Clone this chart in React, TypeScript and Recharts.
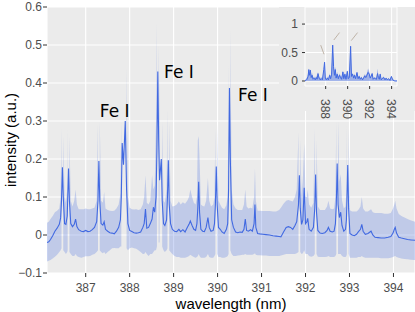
import React from 'react';
import {
  ComposedChart, Area, Line, XAxis, YAxis, CartesianGrid, ReferenceDot, ReferenceLine,
} from 'recharts';

// [wavelength nm, mean intensity, band low, band high] (band null = out of range gap)
const mainSpectrum: [number, number, number | null, number | null][] = [
  [386.12, -0.02, -0.07, 0.032], [386.16, -0.018, -0.068, 0.035], [386.2, -0.012, -0.066, 0.042],
  [386.25, -0.002, -0.062, 0.05], [386.3, 0.01, -0.057, 0.06], [386.35, 0.018, -0.052, 0.064],
  [386.4, 0.028, -0.045, 0.07], [386.43, 0.045, -0.04, 0.1], [386.45, 0.09, -0.035, 0.28],
  [386.47, 0.178, null, null], [386.49, 0.1, -0.04, 0.26], [386.52, 0.03, -0.045, 0.1],
  [386.55, 0.028, -0.05, 0.085], [386.58, 0.05, -0.045, 0.12], [386.59, 0.09, -0.04, 0.28],
  [386.61, 0.175, null, null], [386.63, 0.09, -0.045, 0.26], [386.66, 0.03, -0.05, 0.09],
  [386.7, 0.022, -0.055, 0.075], [386.74, 0.028, -0.055, 0.09], [386.77, 0.042, -0.05, 0.12],
  [386.8, 0.022, -0.055, 0.08], [386.84, 0.014, -0.058, 0.068], [386.9, 0.01, -0.06, 0.068],
  [386.95, 0.009, -0.058, 0.068], [387.0, 0.012, -0.056, 0.07], [387.05, 0.009, -0.056, 0.068],
  [387.1, 0.01, -0.055, 0.068], [387.15, 0.014, -0.052, 0.07], [387.2, 0.02, -0.05, 0.072],
  [387.25, 0.035, -0.045, 0.09], [387.28, 0.09, -0.04, 0.29], [387.3, 0.195, null, null],
  [387.32, 0.09, -0.04, 0.3], [387.35, 0.03, -0.045, 0.09], [387.39, 0.026, -0.048, 0.085],
  [387.42, 0.035, -0.045, 0.113], [387.45, 0.015, -0.05, 0.07], [387.5, 0.01, -0.045, 0.066],
  [387.55, 0.006, -0.04, 0.064], [387.6, 0.005, -0.035, 0.063], [387.65, 0.003, -0.034, 0.064],
  [387.7, 0.01, -0.035, 0.07], [387.75, 0.02, -0.035, 0.08], [387.79, 0.04, -0.03, 0.11],
  [387.81, 0.1, -0.03, 0.3], [387.83, 0.242, null, null], [387.86, 0.185, -0.03, 0.4],
  [387.9, 0.3, null, null], [387.93, 0.12, -0.035, 0.44], [387.96, 0.03, -0.04, 0.1],
  [388.0, 0.012, -0.035, 0.072], [388.05, 0.009, -0.033, 0.068], [388.1, 0.006, -0.035, 0.067],
  [388.15, 0.005, -0.036, 0.068], [388.2, 0.006, -0.04, 0.066], [388.25, 0.008, -0.045, 0.068],
  [388.3, 0.02, -0.05, 0.08], [388.33, 0.03, -0.05, 0.1], [388.36, 0.068, -0.045, 0.157],
  [388.39, 0.018, -0.05, 0.085], [388.43, 0.02, -0.055, 0.08], [388.47, 0.03, -0.05, 0.09],
  [388.51, 0.042, -0.05, 0.157], [388.54, 0.073, -0.045, 0.12], [388.57, 0.06, -0.04, 0.13],
  [388.6, 0.1, -0.04, 0.3], [388.62, 0.22, -0.03, 0.56], [388.64, 0.43, null, null],
  [388.66, 0.25, -0.02, 0.5], [388.68, 0.144, -0.02, 0.3], [388.72, 0.2, null, null],
  [388.74, 0.09, -0.03, 0.3], [388.77, 0.03, -0.04, 0.09], [388.8, 0.025, -0.045, 0.085],
  [388.84, 0.04, -0.04, 0.12], [388.86, 0.1, -0.035, 0.33], [388.88, 0.197, null, null],
  [388.9, 0.08, -0.04, 0.3], [388.93, 0.03, -0.045, 0.09], [388.97, 0.015, -0.05, 0.075],
  [389.02, 0.01, -0.055, 0.076], [389.07, 0.009, -0.058, 0.08], [389.12, 0.015, -0.058, 0.088],
  [389.16, 0.009, -0.06, 0.08], [389.21, 0.014, -0.06, 0.086], [389.26, 0.008, -0.06, 0.082],
  [389.31, 0.02, -0.058, 0.09], [389.35, 0.028, -0.055, 0.1], [389.38, 0.037, -0.052, 0.12],
  [389.42, 0.025, -0.055, 0.1], [389.46, 0.015, -0.058, 0.085], [389.5, 0.012, -0.06, 0.08],
  [389.53, 0.03, -0.058, 0.1], [389.55, 0.07, -0.055, 0.25], [389.57, 0.14, -0.05, 0.26],
  [389.59, 0.06, -0.055, 0.2], [389.62, 0.015, -0.06, 0.08], [389.66, 0.01, -0.06, 0.076],
  [389.7, 0.009, -0.06, 0.075], [389.74, 0.02, -0.058, 0.09], [389.78, 0.046, -0.05, 0.15],
  [389.81, 0.02, -0.058, 0.09], [389.85, 0.01, -0.06, 0.075], [389.9, 0.012, -0.06, 0.08],
  [389.93, 0.03, -0.055, 0.1], [389.95, 0.08, -0.05, 0.28], [389.97, 0.18, null, null],
  [389.99, 0.08, -0.05, 0.29], [390.02, 0.02, -0.058, 0.09], [390.06, 0.015, -0.058, 0.08],
  [390.1, 0.008, -0.06, 0.072], [390.15, 0.004, -0.06, 0.068], [390.2, 0.015, -0.058, 0.078],
  [390.23, 0.03, -0.055, 0.1], [390.25, 0.12, -0.05, 0.45], [390.27, 0.387, null, null],
  [390.29, 0.2, -0.04, 0.54], [390.32, 0.04, -0.05, 0.12], [390.36, 0.02, -0.055, 0.08],
  [390.41, 0.008, -0.055, 0.07], [390.46, 0.006, -0.054, 0.066], [390.51, 0.008, -0.053, 0.066],
  [390.56, 0.007, -0.052, 0.066], [390.6, 0.015, -0.052, 0.08], [390.63, 0.042, -0.05, 0.12],
  [390.66, 0.012, -0.052, 0.075], [390.7, 0.01, -0.052, 0.07], [390.75, 0.014, -0.052, 0.072],
  [390.79, 0.01, -0.052, 0.07], [390.83, 0.03, -0.05, 0.1], [390.85, 0.08, -0.048, 0.175],
  [390.87, 0.02, -0.052, 0.09], [390.91, 0.004, -0.053, 0.064], [390.96, 0.003, -0.053, 0.064],
  [391.03, 0.002, -0.054, 0.063], [391.1, 0.001, -0.054, 0.063], [391.18, 0.0, -0.055, 0.063],
  [391.26, -0.002, -0.055, 0.062], [391.33, -0.003, -0.055, 0.062], [391.4, -0.004, -0.055, 0.066],
  [391.44, -0.005, -0.054, 0.072], [391.5, 0.008, -0.052, 0.082], [391.56, 0.02, -0.05, 0.09],
  [391.61, 0.022, -0.05, 0.092], [391.66, 0.02, -0.05, 0.09], [391.71, 0.015, -0.05, 0.088],
  [391.76, 0.025, -0.05, 0.1], [391.8, 0.035, -0.048, 0.12], [391.84, 0.08, -0.045, 0.27],
  [391.86, 0.157, null, null], [391.88, 0.07, -0.045, 0.25], [391.91, 0.028, -0.05, 0.1],
  [391.94, 0.04, -0.048, 0.15], [391.97, 0.124, -0.04, 0.24], [392.0, 0.03, -0.05, 0.1],
  [392.03, 0.035, -0.05, 0.1], [392.05, 0.044, -0.05, 0.12], [392.08, 0.015, -0.055, 0.08],
  [392.13, 0.01, -0.057, 0.072], [392.18, 0.02, -0.055, 0.085], [392.21, 0.07, -0.05, 0.28],
  [392.23, 0.159, null, null], [392.25, 0.06, -0.05, 0.25], [392.28, 0.012, -0.057, 0.075],
  [392.33, 0.005, -0.058, 0.066], [392.38, 0.004, -0.058, 0.066], [392.44, 0.006, -0.058, 0.066],
  [392.49, 0.012, -0.057, 0.075], [392.52, 0.02, -0.055, 0.09], [392.56, 0.01, -0.058, 0.07],
  [392.61, 0.008, -0.058, 0.068], [392.65, 0.01, -0.058, 0.07], [392.68, 0.03, -0.055, 0.1],
  [392.7, 0.08, -0.05, 0.3], [392.72, 0.188, null, null], [392.74, 0.08, -0.05, 0.3],
  [392.77, 0.046, -0.05, 0.14], [392.8, 0.06, -0.05, 0.16], [392.83, 0.025, -0.055, 0.09],
  [392.87, 0.01, -0.058, 0.07], [392.91, 0.015, -0.058, 0.075], [392.93, 0.04, -0.055, 0.12],
  [392.94, 0.08, -0.05, 0.29], [392.96, 0.184, null, null], [392.98, 0.07, -0.05, 0.28],
  [393.01, 0.004, -0.06, 0.065], [393.06, 0.0, -0.06, 0.062], [393.11, -0.002, -0.06, 0.062],
  [393.16, 0.002, -0.06, 0.062], [393.2, 0.008, -0.058, 0.066], [393.25, 0.015, -0.058, 0.075],
  [393.28, 0.028, -0.055, 0.1], [393.31, 0.01, -0.058, 0.07], [393.36, 0.002, -0.06, 0.062],
  [393.42, 0.004, -0.06, 0.062], [393.49, 0.01, -0.06, 0.068], [393.53, 0.0, -0.06, 0.06],
  [393.58, -0.006, -0.06, 0.058], [393.65, -0.007, -0.06, 0.058], [393.72, -0.008, -0.061, 0.058],
  [393.8, -0.008, -0.061, 0.056], [393.88, -0.006, -0.061, 0.056], [393.94, -0.004, -0.06, 0.058],
  [393.99, 0.005, -0.058, 0.07], [394.02, 0.015, -0.056, 0.08], [394.04, 0.02, -0.055, 0.09],
  [394.07, 0.005, -0.058, 0.07], [394.12, -0.006, -0.06, 0.055], [394.18, -0.008, -0.062, 0.05],
  [394.25, -0.01, -0.063, 0.046], [394.32, -0.012, -0.064, 0.042], [394.4, -0.013, -0.065, 0.038],
  [394.49, -0.014, -0.066, 0.035],
];

// inset: [wavelength nm, line intensity, envelope]
const insetSpectrum: [number, number, number][] = [
  [386.12, 0.0, 0.02], [386.2, 0.01, 0.03], [386.3, 0.03, 0.06], [386.4, 0.08, 0.12],
  [386.47, 0.2, 0.22], [386.52, 0.1, 0.14], [386.61, 0.19, 0.2], [386.68, 0.06, 0.1],
  [386.77, 0.1, 0.14], [386.85, 0.03, 0.06], [386.95, 0.05, 0.08], [387.05, 0.02, 0.05],
  [387.15, 0.06, 0.1], [387.22, 0.03, 0.05], [387.3, 0.13, 0.16], [387.4, 0.05, 0.08],
  [387.5, 0.02, 0.05], [387.6, 0.04, 0.07], [387.7, 0.02, 0.04], [387.83, 0.2, 0.22],
  [387.9, 0.33, 0.33], [387.97, 0.05, 0.08], [388.05, 0.02, 0.04], [388.15, 0.05, 0.08],
  [388.25, 0.02, 0.04], [388.36, 0.1, 0.13], [388.45, 0.04, 0.07], [388.54, 0.12, 0.16],
  [388.64, 0.63, 0.63], [388.72, 0.25, 0.28], [388.8, 0.1, 0.16], [388.88, 0.2, 0.25],
  [388.95, 0.05, 0.1], [389.05, 0.12, 0.16], [389.15, 0.04, 0.07], [389.25, 0.1, 0.13],
  [389.35, 0.06, 0.1], [389.45, 0.03, 0.06], [389.57, 0.16, 0.18], [389.65, 0.04, 0.07],
  [389.75, 0.12, 0.15], [389.85, 0.03, 0.05], [389.97, 0.17, 0.19], [390.05, 0.04, 0.07],
  [390.15, 0.06, 0.09], [390.27, 0.61, 0.61], [390.35, 0.08, 0.12], [390.45, 0.12, 0.14],
  [390.55, 0.05, 0.08], [390.63, 0.1, 0.13], [390.72, 0.04, 0.07], [390.85, 0.15, 0.16],
  [390.95, 0.04, 0.07], [391.05, 0.08, 0.1], [391.15, 0.03, 0.05], [391.25, 0.06, 0.08],
  [391.35, 0.02, 0.04], [391.45, 0.05, 0.07], [391.55, 0.09, 0.12], [391.65, 0.06, 0.09],
  [391.75, 0.1, 0.13], [391.86, 0.15, 0.22], [391.97, 0.12, 0.16], [392.05, 0.05, 0.08],
  [392.13, 0.08, 0.1], [392.23, 0.13, 0.15], [392.32, 0.03, 0.05], [392.42, 0.05, 0.07],
  [392.52, 0.04, 0.06], [392.62, 0.03, 0.05], [392.72, 0.13, 0.22], [392.8, 0.06, 0.09],
  [392.88, 0.03, 0.05], [392.96, 0.12, 0.14], [393.05, 0.02, 0.04], [393.15, 0.04, 0.06],
  [393.28, 0.06, 0.08], [393.4, 0.02, 0.04], [393.5, 0.05, 0.06], [393.6, 0.02, 0.03],
  [393.72, 0.04, 0.05], [393.85, 0.01, 0.03], [393.98, 0.08, 0.09], [394.04, 0.05, 0.06],
  [394.15, 0.01, 0.02], [394.3, 0.0, 0.01], [394.49, 0.0, 0.01],
];

const xTicks = [387, 388, 389, 390, 391, 392, 393, 394];
const yTicks = [-0.1, 0, 0.1, 0.2, 0.3, 0.4, 0.5, 0.6];
const yTickLabels = ['\u22120.1', '0', '0.1', '0.2', '0.3', '0.4', '0.5', '0.6'];
const insetXTicks = [388, 390, 392, 394];
const insetYTicks = [0, 0.5, 1];
const insetYTickLabels = ['0', '0.5', '1'];

const labelText = ['Fe I', 'Fe I', 'Fe I'];
const labelX = [387.66, 389.12, 390.805];
const labelY = [0.327, 0.43, 0.368];

// small leader marks in inset: [x1, y1, x2, y2]
const insetMarks: [number, number, number, number][] = [
  [387.55, 0.63, 387.85, 0.47],
  [388.74, 0.72, 389.26, 0.85],
  [390.33, 0.71, 390.9, 0.85],
];

const BLUE = '#4169E1';
const FONT = '"Liberation Sans", Arial, Helvetica, sans-serif';
const AXIS_TEXT = '#4D4D4D';
const TICK = '#333333';
const PANEL = '#EBEBEB';

const mainData = mainSpectrum.map(([wl, mean, lo, hi]) => ({
  wl,
  mean,
  band: lo == null || hi == null ? null : [lo, hi],
}));

const insetData = insetSpectrum.map(([wl, v, env]) => ({ wl, v, env }));

const InsetXTick = (props: any) => {
  const { x, y, payload } = props;
  return (
    <text
      x={x}
      y={y}
      transform={`rotate(90 ${x} ${y})`}
      dy="0.35em"
      textAnchor="start"
      fontSize={12}
      fill={AXIS_TEXT}
      fontFamily={FONT}
    >
      {payload.value}
    </text>
  );
};

export default function App() {
  return (
    <div style={{ position: 'absolute', left: 0, top: 0, width: 415, height: 312, background: '#fff', fontFamily: FONT }}>
      <ComposedChart
        width={415}
        height={312}
        data={mainData}
        margin={{ top: 7, right: 0, bottom: 0, left: 0 }}
      >
        <CartesianGrid fill={PANEL} stroke="#FFFFFF" strokeWidth={1.1} />
        <XAxis
          dataKey="wl"
          type="number"
          domain={[386.12, 394.49]}
          ticks={xTicks}
          interval={0}
          allowDataOverflow
          height={39}
          tickSize={4}
          tickMargin={6}
          axisLine={false}
          tickLine={{ stroke: TICK }}
          tick={{ fontSize: 12, fill: AXIS_TEXT, fontFamily: FONT }}
          label={{ value: 'wavelength (nm)', position: 'insideBottom', offset: 3, fontSize: 15, fill: '#000', fontFamily: FONT }}
        />
        <YAxis
          type="number"
          domain={[-0.1, 0.6]}
          ticks={yTicks}
          interval={0}
          allowDataOverflow
          width={47}
          tickSize={4}
          tickMargin={1}
          axisLine={false}
          tickLine={{ stroke: TICK }}
          tick={{ fontSize: 12, fill: AXIS_TEXT, fontFamily: FONT }}
          tickFormatter={(v: number, i: number) => yTickLabels[i]}
          label={{ value: 'intensity (a.u.)', angle: -90, position: 'center', dx: -12.5, fontSize: 15, fill: '#000', fontFamily: FONT }}
        />
        <Area
          dataKey="band"
          type="linear"
          fill={BLUE}
          fillOpacity={0.25}
          stroke="none"
          isAnimationActive={false}
          dot={false}
          activeDot={false}
        />
        <Line
          dataKey="mean"
          type="linear"
          stroke={BLUE}
          strokeWidth={1.1}
          dot={false}
          activeDot={false}
          isAnimationActive={false}
        />
        {labelText.map((t, i) => (
          <ReferenceDot
            key={i}
            x={labelX[i]}
            y={labelY[i]}
            r={0}
            fill="none"
            stroke="none"
            label={{ value: t, position: 'center', fontSize: 17, fill: '#000', fontFamily: '"DejaVu Sans", sans-serif' }}
          />
        ))}
      </ComposedChart>

      <div style={{ position: 'absolute', left: 279, top: 7, width: 136, height: 114 }}>
        <div style={{ position: 'absolute', left: 0, top: 0, width: 136, height: 104, background: PANEL }} />
        <div style={{ position: 'absolute', left: 0, top: 0 }}>
          <ComposedChart
            width={136}
            height={114}
            data={insetData}
            margin={{ top: 0, right: 18, bottom: 0, left: 0 }}
          >
            <CartesianGrid fill={PANEL} stroke="#FFFFFF" strokeWidth={1} />
            <XAxis
              dataKey="wl"
              type="number"
              domain={[386.12, 394.49]}
              ticks={insetXTicks}
              interval={0}
              allowDataOverflow
              height={35}
              tickSize={3}
              tickMargin={10}
              axisLine={false}
              tickLine={{ stroke: TICK }}
              tick={<InsetXTick />}
            />
            <YAxis
              type="number"
              domain={[-0.088, 1.3]}
              ticks={insetYTicks}
              interval={0}
              allowDataOverflow
              width={26}
              tickSize={3}
              tickMargin={4}
              axisLine={false}
              tickLine={{ stroke: TICK }}
              tick={{ fontSize: 12, fill: AXIS_TEXT, fontFamily: FONT }}
              tickFormatter={(v: number, i: number) => insetYTickLabels[i]}
            />
            <Area
              dataKey="env"
              type="linear"
              fill={BLUE}
              fillOpacity={0.45}
              stroke="none"
              baseValue={0}
              isAnimationActive={false}
              dot={false}
              activeDot={false}
            />
            <Line
              dataKey="v"
              type="linear"
              stroke={BLUE}
              strokeWidth={1}
              dot={false}
              activeDot={false}
              isAnimationActive={false}
            />
            {insetMarks.map(([x1, y1, x2, y2], i) => (
              <ReferenceLine
                key={i}
                segment={[{ x: x1, y: y1 }, { x: x2, y: y2 }]}
                stroke="#b3a595"
                strokeWidth={0.8}
                ifOverflow="visible"
              />
            ))}
          </ComposedChart>
        </div>
      </div>
    </div>
  );
}
